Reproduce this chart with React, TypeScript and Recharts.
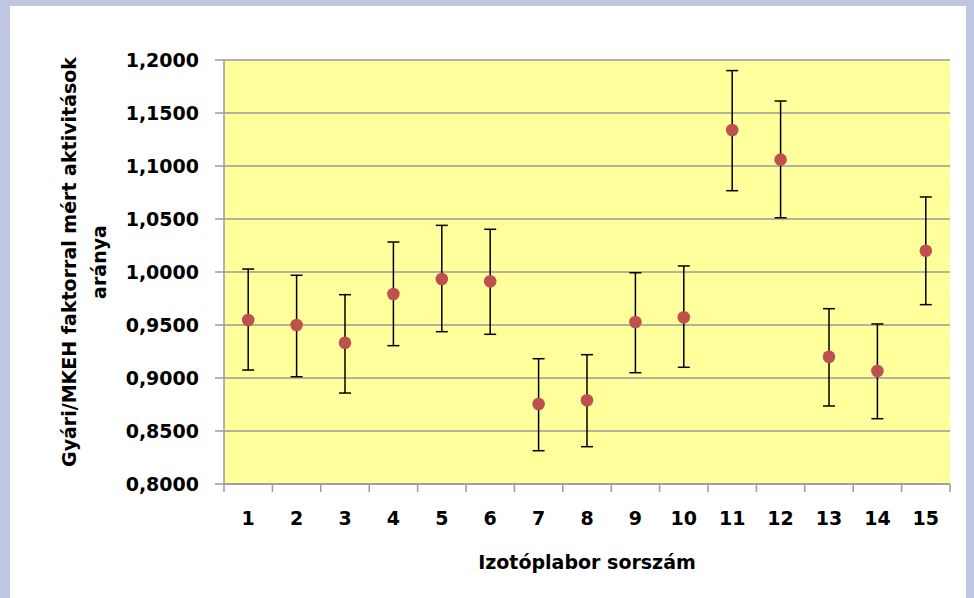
import { ScatterChart, Scatter, XAxis, YAxis, CartesianGrid, ErrorBar } from "recharts";

// laboratory serial numbers
const labs = [1, 2, 3, 4, 5, 6, 7, 8, 9, 10, 11, 12, 13, 14, 15];
// ratio of activities measured with the manufacturer / MKEH factor
const ratios = [0.9547, 0.95, 0.9333, 0.9792, 0.9934, 0.9912, 0.8755, 0.879, 0.9528, 0.9573, 1.134, 1.106, 0.92, 0.9066, 1.0201];
// error bar ends
const upper = [1.0028, 0.9969, 0.9786, 1.0283, 1.044, 1.0403, 0.9182, 0.922, 0.9993, 1.0057, 1.19, 1.1613, 0.9654, 0.951, 1.0708];
const lower = [0.9075, 0.9012, 0.8858, 0.9305, 0.9437, 0.9412, 0.8314, 0.8352, 0.905, 0.9101, 1.0767, 1.0512, 0.8736, 0.8616, 0.9692];
const yTicks = [0.8, 0.85, 0.9, 0.95, 1.0, 1.05, 1.1, 1.15, 1.2];

const data = labs.map((lab, i) => ({
  lab,
  ratio: ratios[i],
  err: [ratios[i] - lower[i], upper[i] - ratios[i]],
}));

// tick marks sit between the categories
const boundaryTicks = [...labs.map((l) => l - 0.5), labs[labs.length - 1] + 0.5];

const FONT = "'DejaVu Sans', Verdana, sans-serif";
const GRID = "#9a9a9a";
const tickStyle = { fill: "#000", fontFamily: FONT, fontWeight: 700, fontSize: 19 };

export default function App() {
  return (
    <div style={{ position: "absolute", left: 0, top: 0, width: 974, height: 598, background: "#bfc7e3" }}>
      <div style={{ position: "absolute", left: 10, top: 6, width: 956, height: 592, background: "#ffffff" }}>
        <ScatterChart width={956} height={592} margin={{ top: 54, right: 16, left: 0, bottom: 54 }}>
          <CartesianGrid vertical={false} stroke={GRID} strokeWidth={1.5} fill="#ffff9c" />
          <XAxis
            type="number"
            dataKey="lab"
            domain={[0.5, 15.5]}
            ticks={boundaryTicks}
            tick={() => <g />}
            tickSize={8}
            stroke={GRID}
            strokeWidth={1.5}
            height={10}
          />
          <XAxis
            xAxisId="labels"
            type="number"
            dataKey="lab"
            domain={[0.5, 15.5]}
            ticks={labs}
            axisLine={false}
            tickLine={false}
            tickSize={0}
            tickMargin={18}
            height={50}
            tick={tickStyle}
          />
          <YAxis
            type="number"
            dataKey="ratio"
            domain={[0.8, 1.2]}
            ticks={yTicks}
            width={214}
            tickSize={9}
            tickMargin={16}
            stroke={GRID}
            strokeWidth={1.5}
            tickFormatter={(v: number) => v.toFixed(4).replace(".", ",")}
            tick={tickStyle}
          />
          {/* invisible series so the label axis gets drawn */}
          <Scatter data={data} xAxisId="labels" isAnimationActive={false} shape={() => <g />} />
          <Scatter
            data={data}
            isAnimationActive={false}
            shape={(p: any) => <circle cx={p.cx} cy={p.cy} r={6.3} fill="#c0504d" />}
          >
            <ErrorBar dataKey="err" direction="y" width={6} stroke="#000" strokeWidth={1.5} />
          </Scatter>
        </ScatterChart>
        <svg width={956} height={592} style={{ position: "absolute", left: 0, top: 0, pointerEvents: "none" }}>
          <g fontFamily={FONT} fontWeight={700} fontSize={19} fill="#000" textAnchor="middle">
            <text transform="translate(66,256) rotate(-90)">Gyári/MKEH faktorral mért aktivitások</text>
            <text transform="translate(96,256) rotate(-90)">aránya</text>
            <text x={577} y={563}>Izotóplabor sorszám</text>
          </g>
        </svg>
      </div>
    </div>
  );
}
